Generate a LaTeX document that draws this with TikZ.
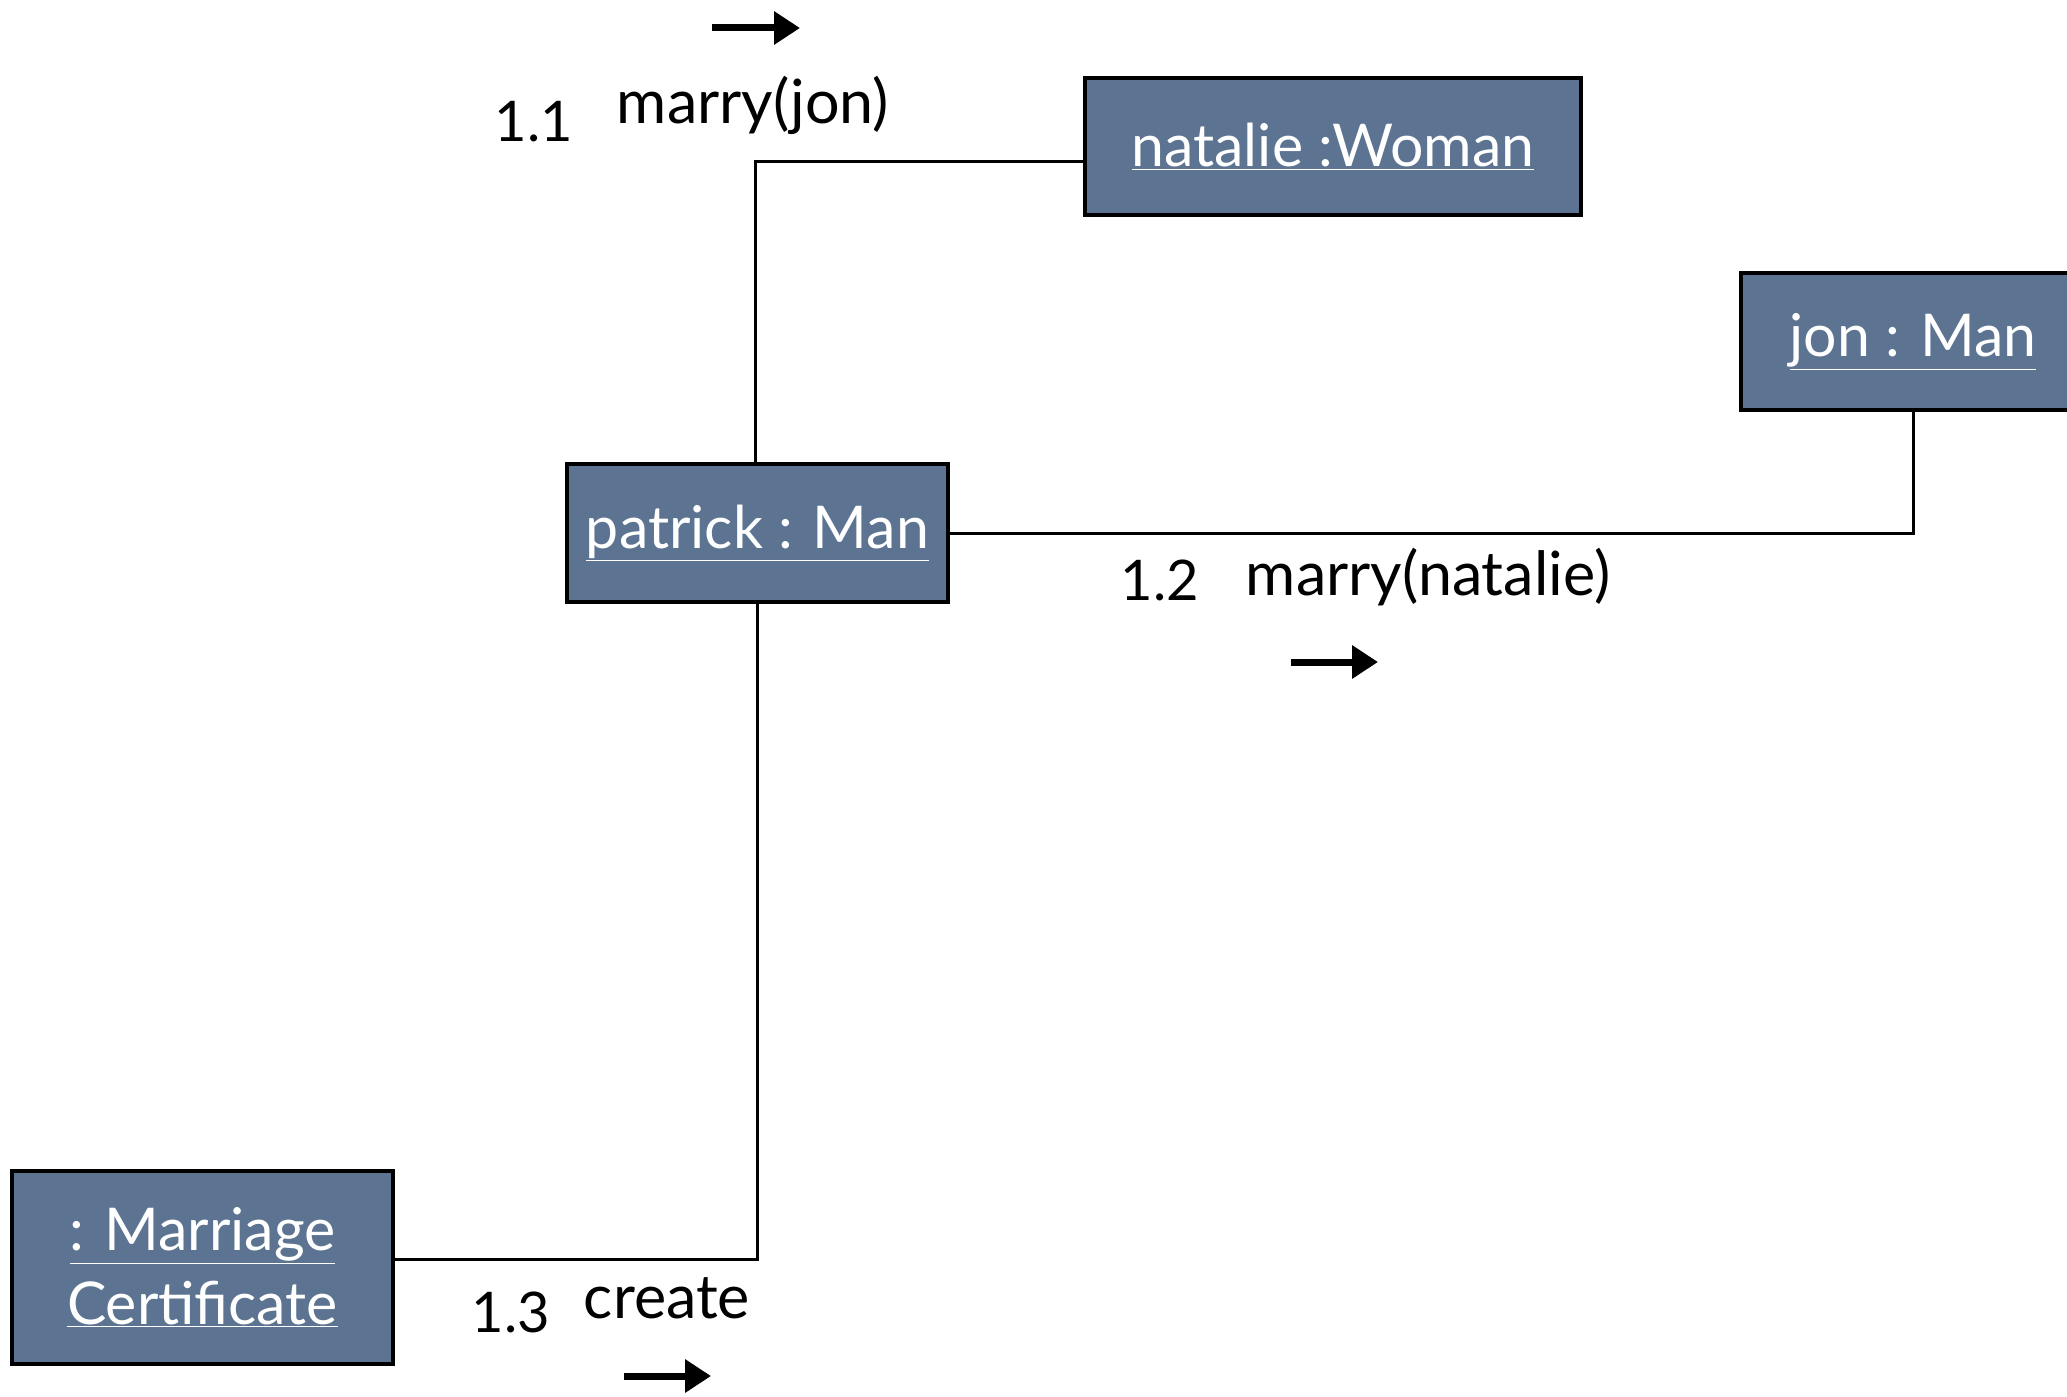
\documentclass[tikz,border=0pt]{standalone}
\usepackage{fontspec}
\setmainfont{Lato}
\usetikzlibrary{arrows.meta}
\definecolor{boxblue}{RGB}{92,116,146}
\begin{document}
\begin{tikzpicture}[x=1pt,y=-1pt,
  obj/.style={draw=black, line width=4.5pt, fill=boxblue, text=white,
    inner sep=0pt, align=center, font=\fontsize{59}{74}\selectfont},
  lbl/.style={inner sep=0pt, font=\fontsize{61}{70}\selectfont},
  num/.style={inner sep=0pt, font=\fontsize{56}{64}\selectfont},
  link/.style={line width=3pt},
  msg/.style={line width=7pt, -{Triangle[length=26pt,width=32pt]}}]
\clip (0,0) rectangle (2067,1397);
\fill[white] (0,0) rectangle (2067,1397);

% objects
\node[obj, minimum width=496pt, minimum height=137pt] (natalie) at (1333,146.5) {\underline{natalie :Woman}};
\node[obj, minimum width=344pt, minimum height=137pt] (jon) at (1913,341.5) {\underline{jon : Man}};
\node[obj, minimum width=381pt, minimum height=138pt] (patrick) at (757.5,533) {\underline{patrick : Man}};
\node[obj, minimum width=381pt, minimum height=193pt] (cert) at (202.5,1267.5) {\underline{: Marriage}\\\underline{Certificate}};

% links
\coordinate (k1) at (755,161);
\coordinate (k3) at (757.5,1259);
\draw[link] (patrick.north -| k1) -- (k1) -- (k1 -| natalie.west);
\draw[link] (patrick.east) -- (patrick.east -| jon.south) -- (jon.south);
\draw[link] (patrick.south) -- (k3) -- (k3 -| cert.east);

% messages
\node[num] (n11) at (534,122) {1.1};
\node[lbl] (m11) at (753,105) {marry(jon)};
\coordinate (a11s) at (712,28);
\coordinate (a11e) at (800,28);
\draw[msg] (a11s) -- (a11e);

\node[num] (n12) at (1160,580) {1.2};
\node[lbl] (m12) at (1428,577) {marry(natalie)};
\coordinate (a12s) at (1291,662);
\coordinate (a12e) at (1378,662);
\draw[msg] (a12s) -- (a12e);

\node[num] (n13) at (511,1312) {1.3};
\node[lbl] (m13) at (667,1298) {create};
\coordinate (a13s) at (624,1376);
\coordinate (a13e) at (711,1376);
\draw[msg] (a13s) -- (a13e);
\end{tikzpicture}
\end{document}
